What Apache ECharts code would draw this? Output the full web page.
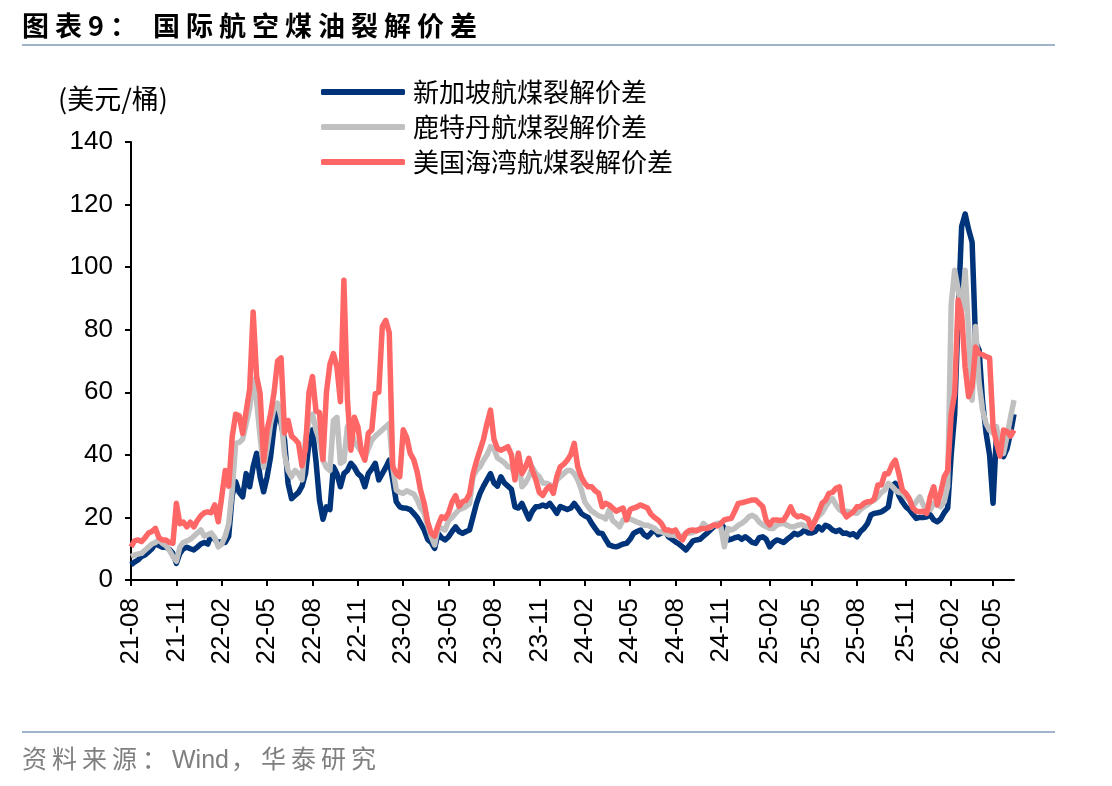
<!DOCTYPE html>
<html>
<head>
<meta charset="utf-8">
<title>国际航空煤油裂解价差</title>
<script src="https://cdn.jsdelivr.net/npm/echarts@6/dist/echarts.min.js"></script>
<style>
    html, body { margin: 0; padding: 0; background: #fff; }
    .wrap { position: relative; width: 1112px; height: 786px; overflow: hidden; }
    #chart { position: absolute; left: 0; top: 0; width: 1112px; height: 786px; }
    .title { position: absolute; left: 22px; top: 8px; font: bold 27px "Noto Sans CJK SC", sans-serif; letter-spacing: 6px; color: #000; line-height: 34px; white-space: nowrap; }
    .title .t2 { margin-left: 10px; }
    .rule { position: absolute; left: 22px; width: 1033px; height: 2px; background: #9fb4cb; }
    .rule.top { top: 44px; }
    .rule.bottom { top: 731px; }
    .source { position: absolute; left: 22px; top: 740px; font: 25px "Noto Sans CJK SC", sans-serif; color: #7f7f7f; letter-spacing: 5px; line-height: 34px; white-space: nowrap; }
    .source .en { font-family: "Liberation Sans", Arial, sans-serif; letter-spacing: 0; margin-right: 2px; }
</style>
</head>
<body>
<div class="wrap">
    <div id="chart"></div>
    <div class="title"><span>图表9：</span><span class="t2">国际航空煤油裂解价差</span></div>
    <div class="rule top"></div>
    <div class="rule bottom"></div>
    <div class="source">资料来源：<span class="en">Wind</span>，华泰研究</div>
</div>
<script>
// 周度数据，起点 2021-08-06
let seriesNames = ['新加坡航煤裂解价差', '鹿特丹航煤裂解价差', '美国海湾航煤裂解价差'];

let sgSpread = [
    4.8, 5.7, 6.4, 7.5, 8, 9, 10, 11.7, 11, 10.5,
    10.5, 9.8, 8.5, 5.3, 8.5, 10, 10.5, 10, 9.6, 10.5,
    11.5, 12, 11.5, 14.4, 13, 12, 12.2, 12, 14, 27,
    31.4, 28, 26.6, 34, 29.8, 36.2, 40.5, 33, 28.2, 33,
    39.4, 49, 55, 50, 44.7, 30.9, 26, 27, 28, 30,
    34, 44, 48, 38, 25.5, 19.4, 23.4, 22.5, 36.2, 34,
    29.8, 34, 35, 37.3, 36, 34, 33, 29.8, 34, 35.5,
    37.3, 32, 34, 36, 38.3, 32, 25, 23.4, 23, 22.9,
    22.5, 21.3, 20, 18, 16, 13, 12, 10.1, 14.9, 13.5,
    12.8, 13.8, 15.5, 17, 15.5, 14.9, 15.5, 16, 20.2, 24.5,
    27.7, 30, 32, 34, 31, 30, 33, 31, 30, 29,
    23.4, 23, 24.5, 22, 19.5, 22, 23.4, 23.5, 24, 23.5,
    24.5, 23, 21.3, 23.5, 23, 22.5, 23, 24.5, 23, 21.3,
    20.5, 20, 18.1, 16.5, 15, 14.9, 13, 11.2, 10.8, 10.6,
    11, 11.5, 11.7, 13, 14.9, 15.5, 16, 14.5, 13.8, 15,
    16, 14.5, 15, 15.5, 13.8, 13, 12.2, 11.5, 10.6, 9.6,
    11, 12.5, 12.8, 13, 14, 14.9, 16, 17, 18, 18.1,
    16.5, 12.8, 13, 13.5, 13.8, 13, 13.8, 13, 12, 11.7,
    13.5, 13.8, 13, 10.6, 12, 12.8, 12.5, 12, 13, 13.8,
    14.9, 14.5, 15, 16, 15, 15, 15.5, 17, 16, 17.5,
    17, 16, 15.5, 16, 14.9, 15, 14.4, 14.8, 13.8, 15.5,
    16.5, 18, 20.8, 21.3, 21.5, 21.8, 22.5, 23.4, 29.8, 30.9,
    27, 25, 23.4, 22.5, 21, 19.7, 20, 20, 20.2, 20.8,
    19.2, 18.6, 19.5, 21.5, 23, 40, 53, 85, 113, 117,
    112, 108, 76, 73.5, 57, 47, 40, 24.5, 47, 42,
    39.4, 42, 47, 53
];

let rdSpread = [
    7.5, 8, 8.3, 8.5, 9.5, 10.5, 11.5, 12, 12.8, 11.7,
    11, 9.5, 7.5, 6, 10.5, 12, 12.5, 13, 14, 15,
    16, 14, 14.5, 15, 13.5, 10.6, 11.5, 14, 18, 28.8,
    43.7, 44, 45, 50, 55, 64, 57, 45.8, 36, 42,
    50, 55, 56.5, 52, 40, 35, 33, 35, 34, 32,
    45, 51, 53, 48, 44.7, 38.3, 36, 35, 51, 52,
    37.3, 38, 49, 48, 44, 42.6, 41, 39, 42, 44.7,
    46, 47, 48, 49, 50, 36, 28.8, 28, 27.7, 28.5,
    28, 27.5, 25.6, 23, 21.3, 17.5, 14, 11.2, 17, 16.5,
    16, 19, 20, 21.3, 22.5, 22.9, 23.5, 24.5, 33, 35,
    36.2, 38.3, 40, 42.6, 42, 39, 38.3, 37.5, 36.2, 36,
    34, 40.5, 29.8, 31, 33, 36, 34, 33, 31, 30.9,
    30.5, 28.8, 32, 33, 34, 35, 35, 34, 32, 29,
    25, 23.4, 22, 21.3, 20.5, 20.2, 19.5, 22.4, 19, 18.1,
    17, 19.2, 19.5, 19.5, 19, 18.5, 18.1, 17.5, 17.5, 17,
    16.5, 15.5, 15.4, 15, 14.4, 14.4, 14.2, 13.8, 14, 14.9,
    15, 15.2, 16, 16, 18.1, 17, 16.8, 17.5, 18.1, 17,
    10.6, 16.5, 16, 16.5, 17.5, 18.1, 19, 20.2, 20.7, 20,
    18.5, 17.6, 17, 16.5, 16.5, 17.5, 18, 18.1, 17.5, 17,
    17, 17.5, 17.8, 17.3, 17, 17.5, 19.2, 20.5, 21.5, 23.4,
    25, 26, 24, 22.5, 21.8, 22, 21.8, 21.5, 21.3, 22.5,
    23.4, 24, 25, 25.5, 26.6, 28, 28.8, 30.9, 30, 28.8,
    28, 27.7, 26.5, 25.6, 23.4, 25, 26.6, 24, 22.4, 22.5,
    24.5, 24, 23.4, 25, 30, 88, 99, 92.7, 86, 99,
    78.8, 57.5, 81, 63, 54.3, 50, 47.9, 46.9, 49, 41.5,
    40.5, 46, 52, 57.5
];

let usgSpread = [
    10.6, 12.5, 12.8, 12.3, 13.5, 15, 15.5, 16.5, 13.5, 12.8,
    12.8, 12, 11.7, 24.5, 18, 18.5, 17, 18.5, 17, 19,
    20.5, 21.5, 21.8, 21.5, 24, 18.6, 26.6, 35, 30, 45.8,
    53, 52.5, 46.8, 54, 61, 85.7, 65, 59.6, 38, 48,
    53, 60, 70, 71, 47, 51, 46, 45, 43.7, 36.5,
    42, 60, 65, 54, 53.5, 38.5, 60, 69, 72.4, 68,
    57, 95.8, 58, 41.5, 52, 49, 41, 38.3, 46.9, 48,
    59.6, 60, 81, 83, 79, 36.2, 34, 33, 48, 45.5,
    40.5, 38.5, 34.5, 28.5, 24.5, 18.5, 15, 14, 17.5, 20.2,
    19.7, 21.5, 25, 27, 23.5, 25, 25.5, 27.5, 34, 38,
    41.5, 45, 50, 54.3, 45, 42, 41.5, 42, 42.6, 40,
    32, 40.5, 34, 36, 38.9, 35, 32, 28, 27, 29,
    30, 27.7, 33, 36.2, 37, 38.3, 40, 43.7, 36.2, 33,
    31, 29.8, 29.8, 28.5, 27.7, 23.4, 24.5, 24, 23, 22,
    22.5, 23, 19.2, 22.5, 23, 23.4, 24, 23.5, 23, 21,
    20, 19.2, 18, 16, 16, 15.5, 16, 14, 12.8, 15,
    15.8, 16, 15.7, 16.3, 16.5, 16.5, 17, 17.6, 17.3, 18,
    19.2, 19.5, 19.7, 22, 24.5, 24.7, 25, 25.3, 25.6, 25.6,
    24.5, 23.5, 19, 17.6, 19.2, 19.2, 19, 19.2, 21, 23.4,
    21, 20.2, 20.5, 20, 19.5, 16.5, 19, 21.5, 24.5, 25.5,
    27.7, 28, 29.3, 29.8, 22, 20.2, 21, 21.8, 23.4, 23.5,
    24.5, 25, 25, 26, 30.4, 30.4, 34, 34, 36.7, 38.3,
    34, 28.8, 27.7, 26, 23, 22, 21.8, 22, 21.3, 26.6,
    29.8, 24, 28, 33, 35, 53, 59.6, 89.5, 85, 68,
    58.6, 61.8, 74.5, 72.4, 72, 71.4, 71, 49, 43.7, 39.6,
    47.9, 47.5, 46, 47.9
];

// 周度日期
let dates = [];
let startDay = Date.UTC(2021, 7, 6);
for (let i = 0; i < sgSpread.length; i++) {
    dates.push(new Date(startDay + i * 7 * 86400000).toISOString().slice(0, 10));
}

window.addEventListener('load', function() {
    let myChart = echarts.init(document.querySelector('#chart'));

    // 每季度(2/5/8/11月)第一周显示刻度
    function isQuarterStart(index) {
        let d = dates[index];
        let m = +d.slice(5, 7),
            day = +d.slice(8, 10);
        return day <= 7 && m % 3 === 2;
    }

    let axisFont = 'Liberation Sans';
    let cnFont = 'Noto Sans CJK SC';

    let option = {
        animation: false,
        color: ['#00347a', '#c0c0c0', '#ff6666'],
        grid: {
            left: 131,
            right: 98,
            top: 142,
            bottom: 206
        },
        legend: {
            orient: 'vertical',
            left: 316,
            top: 72,
            itemGap: 5,
            itemWidth: 84,
            itemHeight: 6,
            icon: 'roundRect',
            textStyle: {
                fontFamily: cnFont,
                fontSize: 26,
                color: '#000',
                lineHeight: 30,
                padding: [0, 0, 0, 3]
            },
            data: seriesNames
        },
        xAxis: {
            type: 'category',
            boundaryGap: false,
            data: dates,
            axisLine: {
                lineStyle: {
                    color: '#000',
                    width: 2
                }
            },
            axisTick: {
                interval: isQuarterStart,
                length: 6,
                lineStyle: {
                    color: '#000',
                    width: 2
                }
            },
            axisLabel: {
                interval: isQuarterStart,
                rotate: 90,
                margin: 18,
                fontFamily: axisFont,
                fontSize: 26,
                color: '#000',
                formatter: function(v) {
                    return v.slice(2, 7);
                }
            },
            splitLine: {
                show: false
            }
        },
        yAxis: {
            type: 'value',
            min: 0,
            max: 140,
            interval: 20,
            name: '(美元/桶)',
            nameLocation: 'end',
            nameGap: 30,
            nameTextStyle: {
                fontFamily: cnFont,
                fontSize: 27,
                color: '#000',
                padding: [0, 36, 0, 0]
            },
            axisLine: {
                show: true,
                lineStyle: {
                    color: '#000',
                    width: 2
                }
            },
            axisTick: {
                show: true,
                length: 6,
                lineStyle: {
                    color: '#000',
                    width: 2
                }
            },
            axisLabel: {
                margin: 18,
                fontFamily: axisFont,
                fontSize: 26,
                color: '#000'
            },
            splitLine: {
                show: false
            }
        },
        series: [{
                name: seriesNames[0],
                type: 'line',
                symbol: 'none',
                lineStyle: {
                    width: 5.5,
                    join: 'round'
                },
                data: sgSpread
            },
            {
                name: seriesNames[1],
                type: 'line',
                symbol: 'none',
                lineStyle: {
                    width: 5.5,
                    join: 'round'
                },
                data: rdSpread
            },
            {
                name: seriesNames[2],
                type: 'line',
                symbol: 'none',
                lineStyle: {
                    width: 5.5,
                    join: 'round'
                },
                data: usgSpread
            }
        ]
    };

    myChart.setOption(option);
});
</script>
</body>
</html>
